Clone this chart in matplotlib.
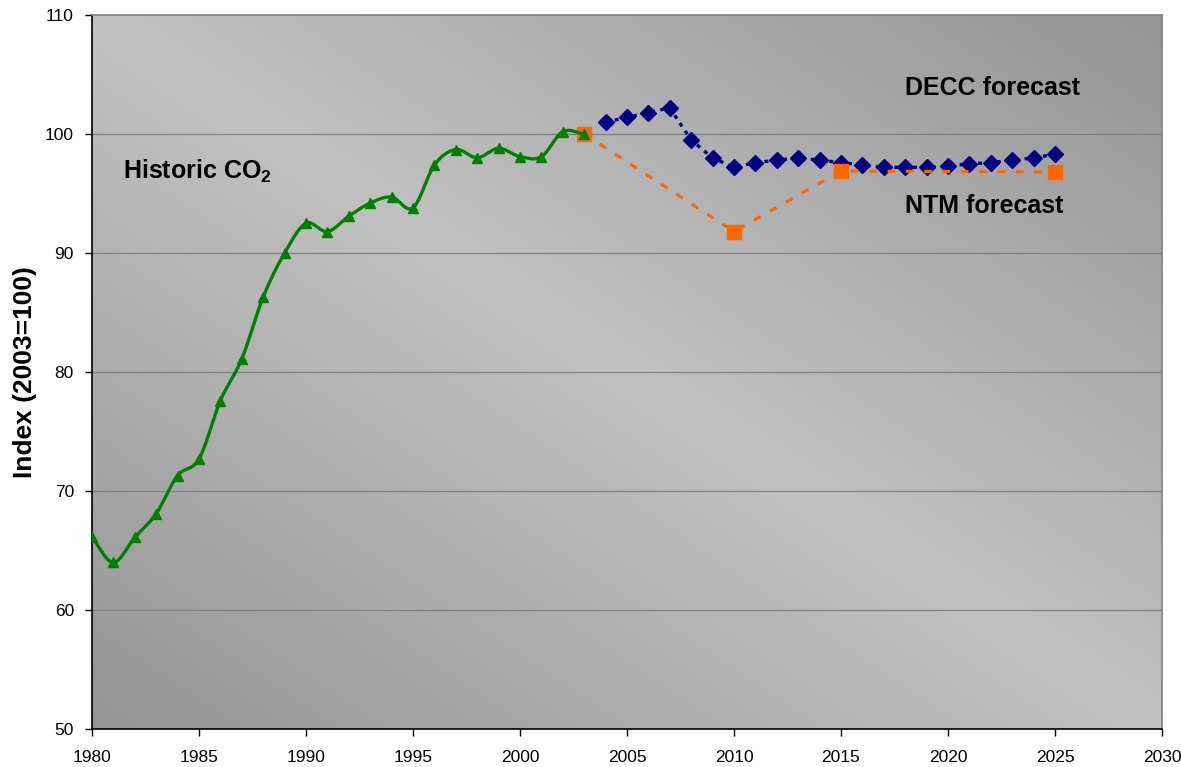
import numpy as np
import matplotlib
matplotlib.use("Agg")
import matplotlib.pyplot as plt
from matplotlib import font_manager

# ------------------------------------------------------------------ data
hist_years = list(range(1980, 2004))
hist_index = [66.1, 64.0, 66.1, 68.1, 71.3, 72.7, 77.6, 81.1, 86.3, 90.0,
              92.5, 91.8, 93.1, 94.2, 94.7, 93.8, 97.4, 98.7, 98.0, 98.8,
              98.1, 98.1, 100.2, 100.0]

decc_years = list(range(2004, 2026))
decc_index = [101.0, 101.4, 101.8, 102.2, 99.5, 98.0, 97.2, 97.6, 97.8, 98.0,
              97.8, 97.6, 97.4, 97.2, 97.2, 97.2, 97.3, 97.5, 97.6, 97.8,
              98.0, 98.3]

ntm_years = [2003, 2010, 2015, 2025]
ntm_index = [100.0, 91.8, 96.9, 96.8]

x_ticks = list(range(1980, 2031, 5))
y_ticks = list(range(50, 111, 10))

# ------------------------------------------------------------------ fonts
names = {f.name for f in font_manager.fontManager.ttflist}
base_font = "Liberation Sans" if "Liberation Sans" in names else "DejaVu Sans"
narrow_font = "Liberation Sans Narrow" if "Liberation Sans Narrow" in names else base_font
plt.rcParams["font.family"] = [base_font, "DejaVu Sans"]
plt.rcParams["mathtext.fontset"] = "custom"
plt.rcParams["mathtext.rm"] = base_font
plt.rcParams["mathtext.bf"] = base_font + ":bold"


def smooth(xs, ys, n=20):
    """Catmull-Rom curve through the points (Excel-style smoothed line)."""
    p = np.column_stack([xs, ys]).astype(float)
    p = np.vstack([p[0] - (p[1] - p[0]), p, p[-1] + (p[-1] - p[-2])])
    out = []
    t = np.linspace(0, 1, n, endpoint=False)[:, None]
    for i in range(1, len(p) - 2):
        p0, p1, p2, p3 = p[i - 1], p[i], p[i + 1], p[i + 2]
        seg = 0.5 * ((2 * p1) + (-p0 + p2) * t + (2 * p0 - 5 * p1 + 4 * p2 - p3) * t ** 2
                     + (-p0 + 3 * p1 - 3 * p2 + p3) * t ** 3)
        out.append(seg)
    out.append(p[-2][None, :])
    out = np.vstack(out)
    return out[:, 0], out[:, 1]


fig = plt.figure(figsize=(11.81, 7.67), dpi=100)
ax = fig.add_axes([0.0779, 0.0495, 0.9060, 0.9309])

# diagonal gradient background: dark bottom-left / top-right, light along the other diagonal
gx, gy = np.meshgrid(np.linspace(0, 1, 300), np.linspace(0, 1, 300))
shade = 193 - 44 * np.abs(gx + gy - 1.0)
rgb = np.dstack([shade, shade, shade]) / 255.0
ax.imshow(rgb, extent=(0, 1, 0, 1), transform=ax.transAxes, origin="lower",
          aspect="auto", zorder=0, interpolation="bilinear")

ax.set_xlim(1980, 2030)
ax.set_ylim(50, 110)
ax.set_xticks(x_ticks)
ax.set_yticks(y_ticks)
for yv in y_ticks[1:-1]:
    ax.axhline(yv, color="#808080", lw=0.9, zorder=1)

# DECC forecast
ax.plot(decc_years, decc_index, color="#000080", lw=2.4, ls=(0, (1.2, 1.6)),
        marker="D", ms=8, mec="#000080", mfc="#000080", zorder=3)
# NTM forecast
ax.plot(ntm_years, ntm_index, color="#FF6600", lw=2.2, ls=(0, (2.5, 3.5)),
        zorder=4)
ax.plot(ntm_years, ntm_index, ls="none", marker="s", ms=10,
        mfc="#FF6600", mec="#FF6600", zorder=4)
# historic
sx, sy = smooth(hist_years, hist_index)
ax.plot(sx, sy, color="#008000", lw=2.4, zorder=5)
ax.plot(hist_years, hist_index, ls="none", marker="^", ms=7,
        mfc="#008000", mec="#008000", zorder=5)

ax.text(1981.45, 96.9, r"Historic CO$_\mathbf{2}$", fontsize=18, fontweight="bold",
        va="center", ha="left", zorder=6)
ax.text(2018.0, 103.9, "DECC forecast", fontsize=18, fontweight="bold",
        va="center", ha="left", zorder=6)
ax.text(2018.0, 93.95, "NTM forecast", fontsize=18, fontweight="bold",
        va="center", ha="left", zorder=6)

ax.set_ylabel("Index (2003=100)", fontsize=19, fontweight="bold",
              family=[narrow_font, "DejaVu Sans"], labelpad=6)

for side in ("top", "right"):
    ax.spines[side].set_color("#808080")
    ax.spines[side].set_linewidth(1.2)
for side in ("left", "bottom"):
    ax.spines[side].set_color("black")
    ax.spines[side].set_linewidth(1.2)
ax.tick_params(axis="both", direction="out", length=5, width=1)
ax.tick_params(axis="y", labelsize=12.5, pad=8)
ax.tick_params(axis="x", labelsize=12.5, pad=10)

fig.savefig("out.png", dpi=100)
